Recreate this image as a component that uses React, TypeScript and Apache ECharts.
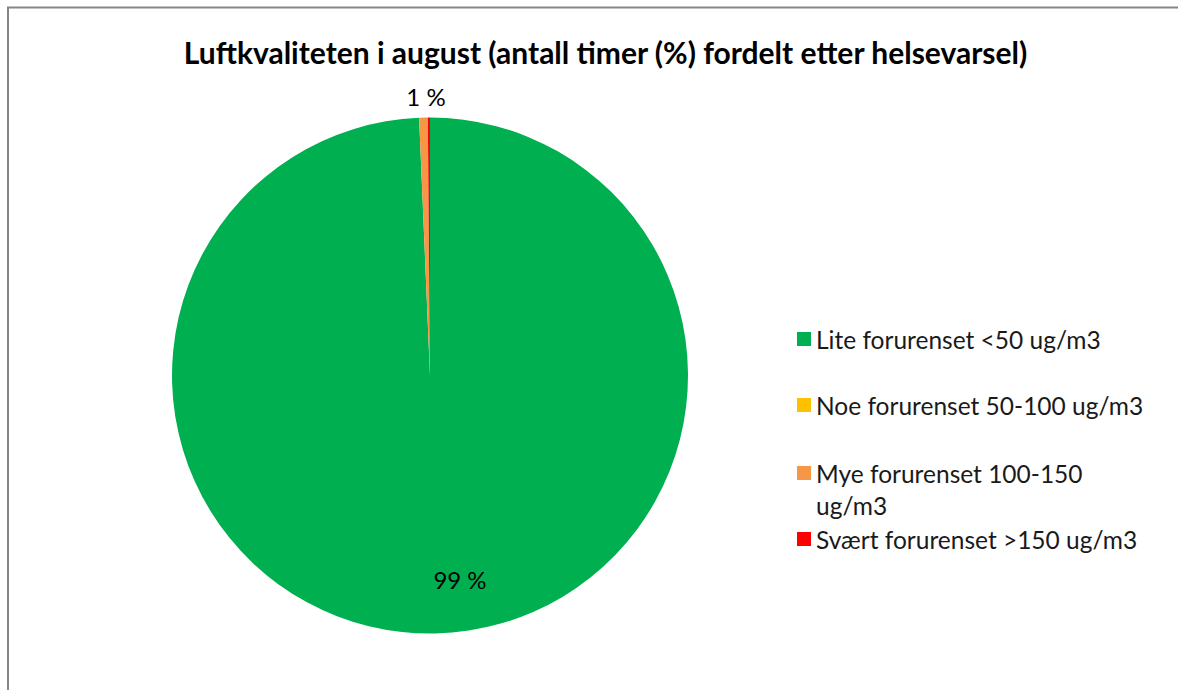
import React, { useEffect, useRef } from "react";
import * as echarts from "echarts";

const TITLE = "Luftkvaliteten i august (antall timer (%) fordelt etter helsevarsel)";
const CATEGORIES = [
  "Lite forurenset <50 ug/m3",
  "Noe forurenset 50-100 ug/m3",
  "Mye forurenset 100-150 ug/m3",
  "Svært forurenset >150 ug/m3",
];
const HOURS = [739, 0, 4, 1];
const COLORS = ["#00B050", "#FFC000", "#F79646", "#FF0000"];
const LEGEND_CENTERS = [339, 405, 473, 539];

const FONT = "Lato";

export default function App() {
  const ref = useRef<HTMLDivElement>(null);
  useEffect(() => {
    if (!ref.current) return;
    const chart = echarts.init(ref.current, null, { renderer: "svg" });
    const total = HOURS.reduce((a, b) => a + b, 0);
    const data = CATEGORIES.map((name, i) => ({
      name,
      value: HOURS[i],
      itemStyle: { color: COLORS[i] },
      label: { show: i === 0 || i === 2 },
    }));
    const legends = CATEGORIES.map((name, i) => {
      const twoLine = i === 2;
      return {
        data: [name],
        orient: "vertical",
        left: 797,
        top: twoLine ? LEGEND_CENTERS[i] - 48 : LEGEND_CENTERS[i] - 16,
        padding: 0,
        itemWidth: 14,
        itemHeight: 14,
        itemGap: 0,
        icon: "rect",
        selectedMode: false,
        formatter: twoLine ? " \nMye forurenset 100-150\nug/m3" : "{name}",
        textStyle: {
          fontFamily: FONT,
          fontSize: 24.5,
          color: "#1a1a1a",
          lineHeight: 32,
        },
      };
    });
    chart.setOption({
      animation: false,
      backgroundColor: "#ffffff",
      title: {
        text: TITLE,
        left: 605.5,
        textAlign: "center",
        top: 36,
        padding: 0,
        textStyle: {
          fontFamily: FONT,
          fontSize: 30,
          fontWeight: "bold",
          color: "#000000",
          lineHeight: 32,
        },
      },
      legend: legends,
      graphic: [
        { type: "line", shape: { x1: 8, y1: 7, x2: 8, y2: 700 }, style: { stroke: "#868686", lineWidth: 2 } },
        { type: "line", shape: { x1: 7, y1: 7.5, x2: 1200, y2: 7.5 }, style: { stroke: "#868686", lineWidth: 2 } },
      ],
      series: [
        {
          type: "pie",
          center: [430, 375.5],
          radius: [0, 258],
          startAngle: 90,
          clockwise: true,
          avoidLabelOverlap: false,
          stillShowZeroSum: false,
          data,
          itemStyle: { borderWidth: 0 },
          emphasis: { disabled: true },
          label: {
            position: "inside",
            fontFamily: FONT,
            fontSize: 24,
            color: "#000000",
            formatter: (p: any) => `${Math.round((p.value / total) * 100)} %`,
          },
          labelLine: { show: false },
          labelLayout: (p: any) => {
            if (p.dataIndex === 0) return { x: 460, y: 579, align: "center", verticalAlign: "middle" };
            if (p.dataIndex === 2) return { x: 426, y: 96, align: "center", verticalAlign: "middle" };
            return {};
          },
        },
      ],
    });
    return () => chart.dispose();
  }, []);
  return <div ref={ref} style={{ position: "fixed", left: 0, top: 0, width: 1178, height: 690 }} />;
}
